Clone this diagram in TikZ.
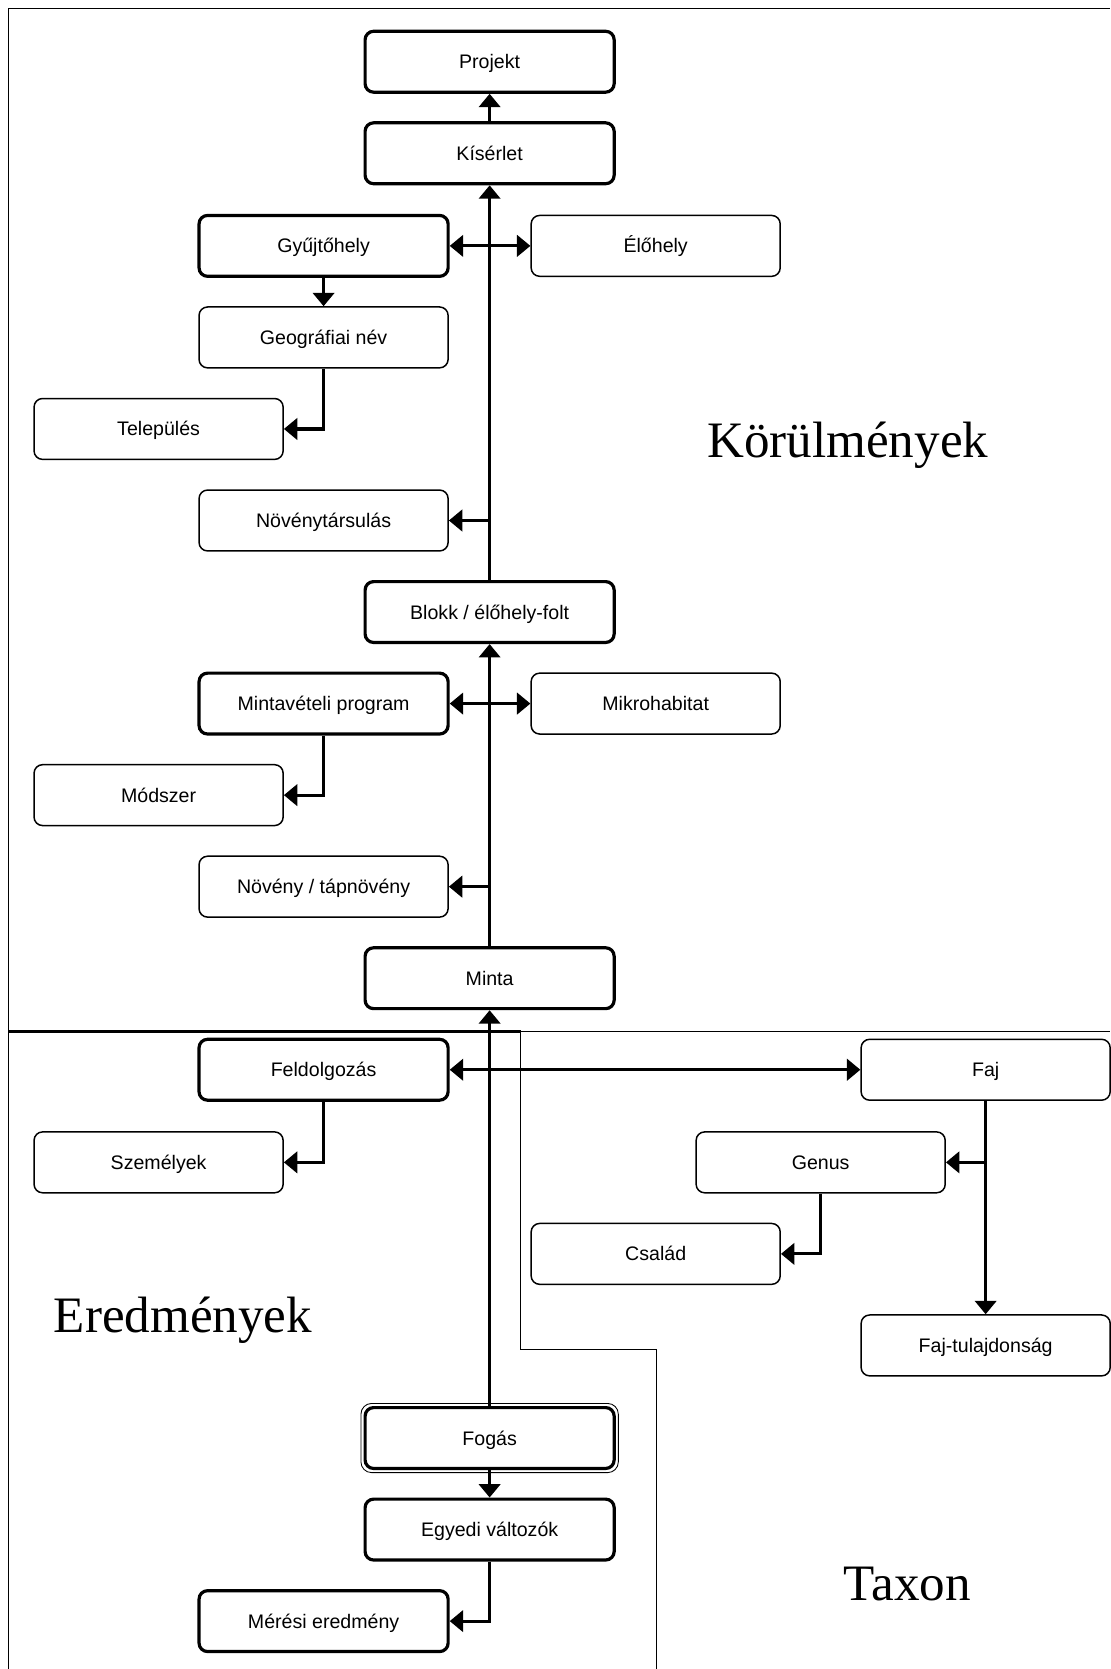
\documentclass[tikz,border=0pt]{standalone}
\usepackage{fontspec}
\setmainfont{Liberation Sans}
\newfontfamily\bigserif{Liberation Serif}
\usetikzlibrary{arrows.meta}
\begin{document}
\begin{tikzpicture}[x=0.5pt,y=-0.5pt,
  box/.style={draw, rounded corners=4pt, minimum width=117pt, minimum height=28.6pt, inner sep=0pt, text height=6.6pt, text depth=0pt, font=\fontsize{9.2pt}{11pt}\selectfont, line width=0.7pt},
  boxthick/.style={box, line width=1.5pt},
  conn/.style={line width=1.5pt, -{Triangle[length=6.3pt,width=10pt]}},
  conntwo/.style={line width=1.5pt, {Triangle[length=6.3pt,width=10pt]}-{Triangle[length=6.3pt,width=10pt]}},
  region/.style={line width=0.6pt},
  biglabel/.style={font=\bigserif\fontsize{24pt}{28pt}\selectfont, inner sep=0pt, anchor=base}
]
\useasboundingbox (0,0) rectangle (1043,1568);
% region borders
\draw[region] (8,1568) -- (8,8) -- (1043,8);
\draw[line width=1.1pt] (8,969) -- (489,969);
\draw[region] (489,969) -- (1043,969);
\draw[region] (489,969) -- (489,1268) -- (617,1268) -- (617,1568);
% region labels
\node[biglabel] (lkor) at (796.5,430) {Körülmények};
\node[biglabel] (lered) at (172,1252) {Eredmények};
\node[biglabel] (ltax) at (852.5,1504) {Taxon};
% nodes
\node[boxthick] (proj) at (460,58) {Projekt};
\node[boxthick] (kis) at (460,144) {Kísérlet};
\node[boxthick] (gyuj) at (304,231) {Gyűjtőhely};
\node[box] (elo) at (616,231) {Élőhely};
\node[box] (geo) at (304,317) {Geográfiai név};
\node[box] (tel) at (149,403) {Település};
\node[box] (novt) at (304,489) {Növénytársulás};
\node[boxthick] (blokk) at (460,575) {Blokk / élőhely-folt};
\node[boxthick] (minp) at (304,661) {Mintavételi program};
\node[box] (mikro) at (616,661) {Mikrohabitat};
\node[box] (mod) at (149,747) {Módszer};
\node[box] (nov) at (304,833) {Növény / tápnövény};
\node[boxthick] (minta) at (460,919) {Minta};
\node[boxthick] (feld) at (304,1005) {Feldolgozás};
\node[box] (faj) at (926,1005) {Faj};
\node[box] (szem) at (149,1092) {Személyek};
\node[box] (genus) at (771,1092) {Genus};
\node[box] (csal) at (616,1178) {Család};
\node[box] (fajt) at (926,1264) {Faj-tulajdonság};
\node[boxthick] (fog) at (460,1351) {Fogás};
\draw[line width=0.4pt, rounded corners=5pt] ([xshift=-1.2pt,yshift=1.2pt]fog.north west) rectangle ([xshift=1.2pt,yshift=-1.2pt]fog.south east);
\node[boxthick] (egy) at (460,1437) {Egyedi változók};
\node[boxthick] (mer) at (304,1523) {Mérési eredmény};
% connectors
\draw[conn] (kis.north) -- (proj.south);
\draw[conn] (blokk.north) -- (kis.south);
\draw[conn] (minta.north) -- (blokk.south);
\draw[conn] (fog.north) -- (minta.south);
\draw[conntwo] (gyuj.east) -- (elo.west);
\draw[conn] (gyuj.south) -- (geo.north);
\draw[conn] (geo.south) |- (tel.east);
\draw[conn] (blokk.north |- novt.east) -- (novt.east);
\draw[conntwo] (minp.east) -- (mikro.west);
\draw[conn] (minp.south) |- (mod.east);
\draw[conn] (minta.north |- nov.east) -- (nov.east);
\draw[conntwo] (feld.east) -- (faj.west);
\draw[conn] (feld.south) |- (szem.east);
\draw[conn] (faj.south) -- (fajt.north);
\draw[conn] (faj.south |- genus.east) -- (genus.east);
\draw[conn] (genus.south) |- (csal.east);
\draw[conn] (fog.south) -- (egy.north);
\draw[conn] (egy.south) |- (mer.east);
\end{tikzpicture}
\end{document}
